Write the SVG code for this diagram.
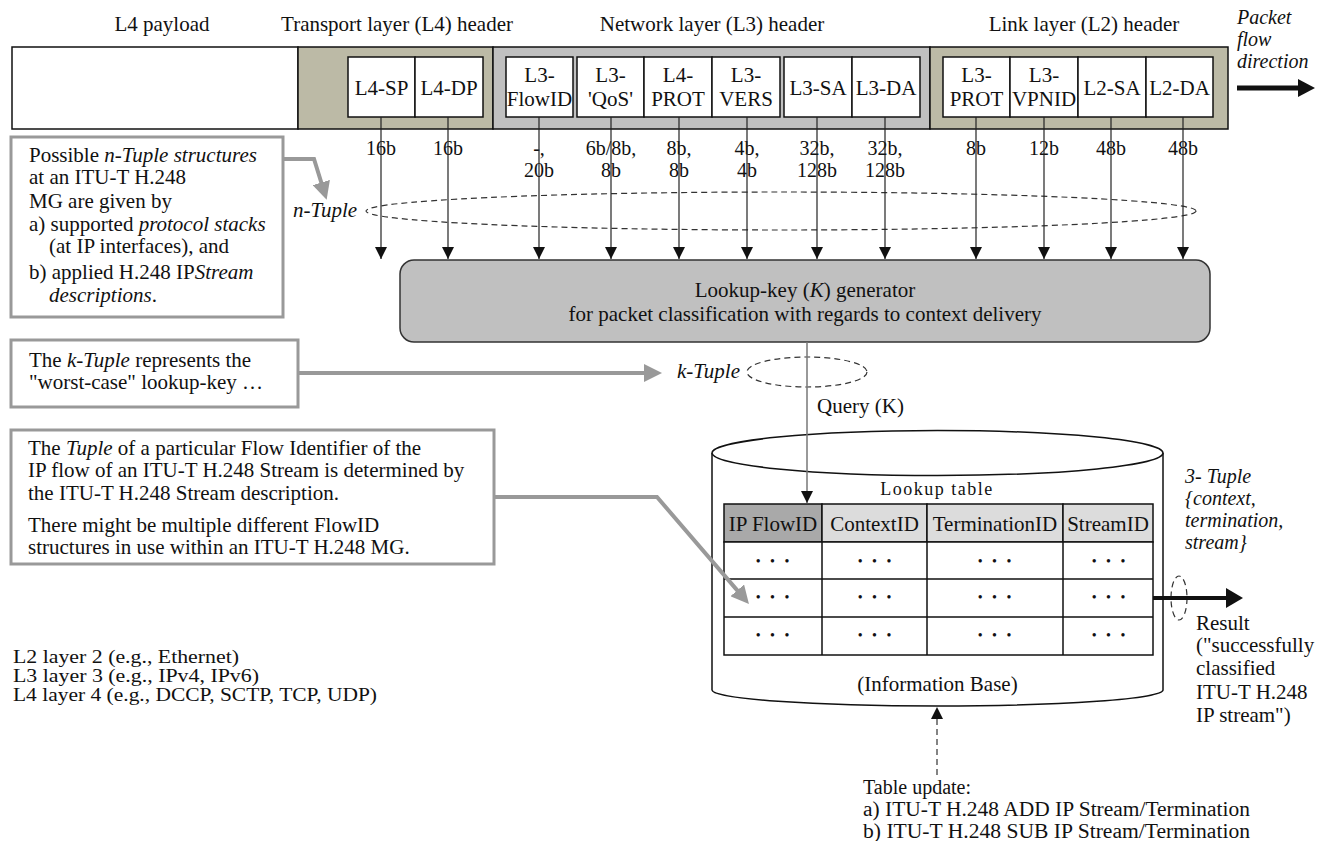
<svg xmlns="http://www.w3.org/2000/svg" width="1326" height="841" viewBox="0 0 1326 841">
<style>
text{font-family:"Liberation Serif","Times New Roman",serif;font-size:21px;fill:#111}
.i{font-style:italic}
.m{text-anchor:middle}
.b{font-size:20px}
.s{font-size:19px}
.d{font-size:14px;letter-spacing:3px}
.lt{font-size:18px;letter-spacing:1.5px}
.fld{fill:#fff;stroke:#111;stroke-width:1.5}
.olive{fill:#bcbaa6;stroke:#111;stroke-width:1.5}
.grey{fill:#c0c0c0;stroke:#111;stroke-width:1.5}
.note{fill:#fff;stroke:#999;stroke-width:3}
.gc{fill:none;stroke:#999;stroke-width:4}
.va{stroke:#222;stroke-width:1.2;fill:none}
.dash{fill:none;stroke:#333;stroke-width:1.2;stroke-dasharray:6 4}
.cell{stroke:#111;stroke-width:1.5}
</style>
<defs>
<marker id="ah" viewBox="0 0 12 12" refX="12" refY="6" markerWidth="12" markerHeight="12" markerUnits="userSpaceOnUse" orient="auto"><path d="M0,0 L12,6 L0,12 z" fill="#111"/></marker>
<marker id="ag" viewBox="0 0 18 18" refX="1" refY="9" markerWidth="18" markerHeight="18" markerUnits="userSpaceOnUse" orient="auto"><path d="M0,0 L18,9 L0,18 z" fill="#999"/></marker>
<marker id="ab" viewBox="0 0 17 18" refX="1" refY="9" markerWidth="17" markerHeight="18" markerUnits="userSpaceOnUse" orient="auto"><path d="M0,0 L17,9 L0,18 z" fill="#111"/></marker>
<marker id="ab2" viewBox="0 0 17 20" refX="1" refY="10" markerWidth="17" markerHeight="20" markerUnits="userSpaceOnUse" orient="auto"><path d="M0,0 L17,10 L0,20 z" fill="#111"/></marker>
</defs>
<rect width="1326" height="841" fill="#fff"/>

<g id="headers">
<text x="162" y="31" class="m">L4 payload</text>
<text x="397" y="31" class="m">Transport layer (L4) header</text>
<text x="712" y="31" class="m">Network layer (L3) header</text>
<text x="1084" y="31" class="m">Link layer (L2) header</text>
<text x="1237" y="24" class="i b">Packet</text>
<text x="1237" y="46" class="i b">flow</text>
<text x="1237" y="68" class="i b">direction</text>
</g>

<g id="packet">
<rect x="12" y="47" width="286" height="82" class="fld"/>
<rect x="298" y="47" width="195" height="82" class="olive"/>
<rect x="493" y="47" width="437" height="82" class="grey"/>
<rect x="930" y="47" width="298" height="82" class="olive"/>
</g>

<g id="fields">
<rect x="348" y="57" width="67" height="60" class="fld"/><text x="381.5" y="95" class="m">L4-SP</text>
<rect x="415" y="57" width="68" height="60" class="fld"/><text x="449" y="95" class="m">L4-DP</text>
<rect x="506" y="57" width="67" height="60" class="fld"/><text x="539.5" y="82" class="m">L3-</text><text x="539.5" y="106" class="m">FlowID</text>
<rect x="577" y="57" width="67" height="60" class="fld"/><text x="610.5" y="82" class="m">L3-</text><text x="610.5" y="106" class="m">'QoS'</text>
<rect x="644" y="57" width="68" height="60" class="fld"/><text x="678" y="82" class="m">L4-</text><text x="678" y="106" class="m">PROT</text>
<rect x="712" y="57" width="68" height="60" class="fld"/><text x="746" y="82" class="m">L3-</text><text x="746" y="106" class="m">VERS</text>
<rect x="784" y="57" width="68" height="60" class="fld"/><text x="818" y="95" class="m">L3-SA</text>
<rect x="852" y="57" width="68" height="60" class="fld"/><text x="886" y="95" class="m">L3-DA</text>
<rect x="943" y="57" width="67" height="60" class="fld"/><text x="976.5" y="82" class="m">L3-</text><text x="976.5" y="106" class="m">PROT</text>
<rect x="1010" y="57" width="68" height="60" class="fld"/><text x="1044" y="82" class="m">L3-</text><text x="1044" y="106" class="m">VPNID</text>
<rect x="1078" y="57" width="68" height="60" class="fld"/><text x="1112" y="95" class="m">L2-SA</text>
<rect x="1146" y="57" width="67" height="60" class="fld"/><text x="1179.5" y="95" class="m">L2-DA</text>
</g>

<g id="generator">
<rect x="400" y="260" width="810" height="82" rx="14" fill="#c0c0c0" stroke="#333" stroke-width="1.5"/>
<text x="805" y="297" class="m">Lookup-key (<tspan class="i">K</tspan>) generator</text>
<text x="805" y="321" class="m">for packet classification with regards to context delivery</text>
</g>

<g id="note-ntuple">
<rect x="11" y="137" width="272" height="180" class="note"/>
<text x="29" y="162">Possible <tspan class="i">n-Tuple structures</tspan></text>
<text x="29" y="184">at an ITU-T H.248</text>
<text x="29" y="208">MG are given by</text>
<text x="29" y="231">a) supported <tspan class="i">protocol stacks</tspan></text>
<text x="49" y="253">(at IP interfaces), and</text>
<text x="29" y="279">b) applied H.248 IP<tspan class="i">Stream</tspan></text>
<text x="49" y="302"><tspan class="i">descriptions</tspan>.</text>
</g>

<g id="note-ktuple">
<rect x="11" y="340" width="287" height="67" class="note"/>
<text x="29" y="367">The <tspan class="i">k-Tuple</tspan> represents the</text>
<text x="29" y="389">"worst-case" lookup-key …</text>
</g>

<g id="note-tuple">
<rect x="11" y="430" width="483" height="134" class="note"/>
<text x="28" y="455">The <tspan class="i">Tuple</tspan> of a particular Flow Identifier of the</text>
<text x="28" y="477">IP flow of an ITU-T H.248 Stream is determined by</text>
<text x="28" y="500">the ITU-T H.248 Stream description.</text>
<text x="28" y="532">There might be multiple different FlowID</text>
<text x="28" y="554">structures in use within an ITU-T H.248 MG.</text>
</g>

<g id="legend">
<text x="13" y="663" class="s" textLength="226" lengthAdjust="spacingAndGlyphs">L2 layer 2 (e.g., Ethernet)</text>
<text x="13" y="682" class="s" textLength="246" lengthAdjust="spacingAndGlyphs">L3 layer 3 (e.g., IPv4, IPv6)</text>
<text x="13" y="701" class="s" textLength="364" lengthAdjust="spacingAndGlyphs">L4 layer 4 (e.g., DCCP, SCTP, TCP, UDP)</text>
</g>

<g id="information-base">
<path d="M712,453 V690 A225.5,16 0 0 0 1163,690 V453" fill="#fff" stroke="#111" stroke-width="1.5"/>
<ellipse cx="937.5" cy="453" rx="225.5" ry="22.5" fill="#fff" stroke="#111" stroke-width="1.5"/>
<text x="937" y="495" class="m lt">Lookup table</text>
<text x="937.5" y="691" class="m">(Information Base)</text>
</g>

<g id="lookup-table">
<rect x="724" y="504" width="98" height="38" fill="#a9a9a9" class="cell"/>
<rect x="822" y="504" width="105" height="38" fill="#dcdcdc" class="cell"/>
<rect x="927" y="504" width="136" height="38" fill="#dcdcdc" class="cell"/>
<rect x="1063" y="504" width="90" height="38" fill="#dcdcdc" class="cell"/>
<rect x="724" y="542" width="429" height="113" fill="#fff" class="cell"/>
<path d="M724,579 H1153 M724,617 H1153 M822,542 V655 M927,542 V655 M1063,542 V655" class="cell" fill="none"/>
<text x="773" y="531" class="m">IP FlowID</text>
<text x="874.5" y="531" class="m">ContextID</text>
<text x="995" y="531" class="m">TerminationID</text>
<text x="1108" y="531" class="m">StreamID</text>
<text x="774" y="566" class="m d">• • •</text><text x="876" y="566" class="m d">• • •</text><text x="996" y="566" class="m d">• • •</text><text x="1110" y="566" class="m d">• • •</text>
<text x="774" y="602" class="m d">• • •</text><text x="876" y="602" class="m d">• • •</text><text x="996" y="602" class="m d">• • •</text><text x="1110" y="602" class="m d">• • •</text>
<text x="774" y="640" class="m d">• • •</text><text x="876" y="640" class="m d">• • •</text><text x="996" y="640" class="m d">• • •</text><text x="1110" y="640" class="m d">• • •</text>
</g>

<g id="result-labels">
<text x="1185" y="483" class="i b">3- Tuple</text>
<text x="1185" y="505" class="i b">{context,</text>
<text x="1185" y="527" class="i b">termination,</text>
<text x="1185" y="549" class="i b">stream}</text>
<text x="1196" y="630">Result</text>
<text x="1196" y="652">("successfully</text>
<text x="1196" y="675">classified</text>
<text x="1196" y="699">ITU-T H.248</text>
<text x="1196" y="722">IP stream")</text>
</g>

<g id="query-label">
<text x="817" y="413">Query (K)</text>
</g>

<g id="update-label">
<text x="863" y="794" class="b">Table update:</text>
<text x="863" y="816" class="b" textLength="387" lengthAdjust="spacingAndGlyphs">a) ITU-T H.248 ADD IP Stream/Termination</text>
<text x="863" y="838" class="b" textLength="387" lengthAdjust="spacingAndGlyphs">b) ITU-T H.248 SUB IP Stream/Termination</text>
</g>

<g id="bit-labels">
<text x="381" y="155" class="m b">16b</text>
<text x="448" y="155" class="m b">16b</text>
<text x="539" y="155" class="m b">-,</text><text x="539" y="177" class="m b">20b</text>
<text x="611" y="155" class="m b">6b/8b,</text><text x="611" y="177" class="m b">8b</text>
<text x="679" y="155" class="m b">8b,</text><text x="679" y="177" class="m b">8b</text>
<text x="747" y="155" class="m b">4b,</text><text x="747" y="177" class="m b">4b</text>
<text x="817" y="155" class="m b">32b,</text><text x="817" y="177" class="m b">128b</text>
<text x="885" y="155" class="m b">32b,</text><text x="885" y="177" class="m b">128b</text>
<text x="976" y="155" class="m b">8b</text>
<text x="1044" y="155" class="m b">12b</text>
<text x="1111" y="155" class="m b">48b</text>
<text x="1183" y="155" class="m b">48b</text>
</g>

<g id="tuple-labels">
<text x="293" y="217" class="i">n-Tuple</text>
<text x="677" y="378" class="i">k-Tuple</text>
</g>

<g id="connectors">
<ellipse cx="781" cy="211" rx="415" ry="19" class="dash"/>
<ellipse cx="807" cy="372" rx="60" ry="15" class="dash"/>
<ellipse cx="1179" cy="598" rx="8" ry="22" class="dash"/>
<line x1="381" y1="117" x2="381" y2="259" class="va" marker-end="url(#ah)"/>
<line x1="448" y1="117" x2="448" y2="259" class="va" marker-end="url(#ah)"/>
<line x1="539" y1="117" x2="539" y2="259" class="va" marker-end="url(#ah)"/>
<line x1="611" y1="117" x2="611" y2="259" class="va" marker-end="url(#ah)"/>
<line x1="679" y1="117" x2="679" y2="259" class="va" marker-end="url(#ah)"/>
<line x1="747" y1="117" x2="747" y2="259" class="va" marker-end="url(#ah)"/>
<line x1="817" y1="117" x2="817" y2="259" class="va" marker-end="url(#ah)"/>
<line x1="885" y1="117" x2="885" y2="259" class="va" marker-end="url(#ah)"/>
<line x1="976" y1="117" x2="976" y2="259" class="va" marker-end="url(#ah)"/>
<line x1="1044" y1="117" x2="1044" y2="259" class="va" marker-end="url(#ah)"/>
<line x1="1111" y1="117" x2="1111" y2="259" class="va" marker-end="url(#ah)"/>
<line x1="1183" y1="117" x2="1183" y2="259" class="va" marker-end="url(#ah)"/>
<line x1="807" y1="342" x2="807" y2="503" stroke="#777" stroke-width="1.5" marker-end="url(#ah)"/>
<line x1="937" y1="775" x2="937" y2="707" class="dash" marker-end="url(#ah)"/>
<path d="M283,159 H314 L321.6,183.5" class="gc" marker-end="url(#ag)"/>
<path d="M298,373 H645" class="gc" marker-end="url(#ag)"/>
<path d="M494,497 H657 L737.9,591.1" class="gc" marker-end="url(#ag)"/>
<line x1="1237" y1="88" x2="1299" y2="88" stroke="#111" stroke-width="5" marker-end="url(#ab)"/>
<line x1="1153" y1="598" x2="1227" y2="598" stroke="#111" stroke-width="4" marker-end="url(#ab2)"/>
</g>
</svg>
